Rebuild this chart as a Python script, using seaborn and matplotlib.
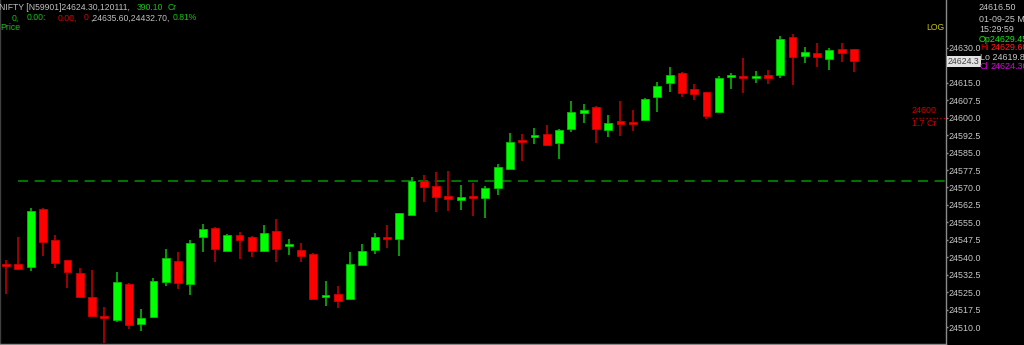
import numpy as np
import pandas as pd
import matplotlib
matplotlib.use("Agg")
import matplotlib.pyplot as plt
import matplotlib.transforms as mtransforms
import seaborn as sns

# ---------------- data ----------------
opens = [
    24537.0, 24537.0, 24535.8, 24560.8, 24547.4, 24538.7, 24533.2, 24523.0, 24514.9, 24513.0,
    24528.6, 24511.3, 24514.2, 24529.2, 24538.4, 24528.5, 24548.8, 24552.6, 24542.8, 24549.4,
    24548.7, 24542.7, 24551.4, 24545.0, 24543.2, 24541.4, 24523.0, 24524.2, 24522.0, 24536.8,
    24543.1, 24548.6, 24547.7, 24558.2, 24572.8, 24570.6, 24566.5, 24564.6, 24566.3, 24565.5,
    24569.8, 24578.0, 24590.4, 24591.7, 24593.1, 24589.0, 24595.0, 24602.2, 24604.6, 24594.7,
    24598.5, 24598.3, 24599.0, 24608.9, 24614.9, 24619.1, 24612.2, 24610.9, 24602.6, 24617.5,
    24617.8, 24617.1, 24618.4, 24618.3, 24634.6, 24626.6, 24627.8, 24625.4, 24629.4, 24629.45]
highs = [
    24538.8, 24548.8, 24561.3, 24561.0, 24549.6, 24539.0, 24535.2, 24534.6, 24518.6, 24533.8,
    24529.0, 24517.7, 24530.9, 24543.5, 24542.4, 24547.4, 24554.2, 24553.0, 24550.0, 24550.9,
    24549.0, 24553.9, 24556.5, 24547.9, 24546.3, 24542.0, 24529.8, 24527.6, 24542.1, 24545.7,
    24550.4, 24553.7, 24559.2, 24574.6, 24575.5, 24576.7, 24577.0, 24571.1, 24571.8, 24570.6,
    24580.1, 24593.6, 24593.0, 24595.6, 24596.8, 24595.0, 24607.3, 24605.9, 24605.0, 24601.1,
    24607.3, 24603.3, 24608.5, 24615.4, 24621.7, 24619.5, 24614.5, 24611.2, 24618.1, 24619.4,
    24625.6, 24620.1, 24620.5, 24635.2, 24636.0, 24630.6, 24632.3, 24629.9, 24632.0, 24629.60]
lows = [
    24524.2, 24534.6, 24534.1, 24540.5, 24535.5, 24526.6, 24522.7, 24514.5, 24503.0, 24512.3,
    24509.1, 24508.3, 24514.0, 24527.5, 24526.2, 24523.8, 24542.1, 24538.1, 24542.5, 24539.2,
    24540.2, 24542.1, 24537.8, 24541.0, 24538.0, 24522.0, 24519.2, 24518.3, 24521.7, 24536.5,
    24541.3, 24544.0, 24540.4, 24558.0, 24563.6, 24559.3, 24559.9, 24560.3, 24557.7, 24557.0,
    24566.8, 24577.8, 24581.5, 24588.6, 24588.0, 24582.1, 24594.0, 24597.9, 24589.0, 24591.9,
    24592.2, 24594.4, 24598.8, 24602.6, 24610.9, 24609.1, 24607.6, 24599.3, 24601.9, 24612.4,
    24610.5, 24614.8, 24614.5, 24617.2, 24614.1, 24623.7, 24621.7, 24620.5, 24624.1, 24619.85]
closes = [
    24536.1, 24535.0, 24559.9, 24546.7, 24537.4, 24533.7, 24522.9, 24514.7, 24513.9, 24529.2,
    24511.0, 24514.0, 24529.8, 24539.6, 24529.1, 24546.3, 24552.0, 24543.4, 24549.7, 24547.3,
    24542.6, 24550.3, 24543.4, 24545.4, 24540.5, 24522.2, 24523.8, 24521.3, 24537.0, 24542.7,
    24548.7, 24547.7, 24558.9, 24572.8, 24570.3, 24566.0, 24565.2, 24565.9, 24565.5, 24569.7,
    24578.7, 24589.7, 24589.7, 24592.6, 24588.3, 24594.6, 24602.5, 24603.5, 24595.0, 24597.9,
    24597.4, 24597.4, 24607.9, 24613.7, 24618.4, 24610.6, 24610.1, 24600.8, 24617.0, 24618.4,
    24617.1, 24618.1, 24617.0, 24633.7, 24626.3, 24628.3, 24626.0, 24629.0, 24628.0, 24624.30]

ref_level = 24572.7          # green dashed reference line
alert_level = 24600.0        # red dotted alert line
alert_label = "24600"
alert_sub = "1.7 Cr"
last_price_label = "24624.3"
last_price = 24624.30
y_ticks = [24510.0, 24517.5, 24525.0, 24532.5, 24540.0, 24547.5, 24555.0, 24562.5, 24570.0,
           24577.5, 24585.0, 24592.5, 24600.0, 24607.5, 24615.0, 24630.0]

header1 = ["NIFTY [N59901]24624.30,120111,", "390.10", "Cr"]
header2 = ["0,", "0.00:", "0.00,", "0", ",24635.60,24432.70,", "0.81%"]
header3 = "Price"
info_lines = ["24616.50", "01-09-25 Mo", "15:29:59"]
info_op = "Op24629.45"
info_hi = ("Hi", "24629.60")
info_lo = "Lo 24619.85"
info_cl = ("Cl", "24624.30")

# ---------------- styling ----------------
sns.set_style("dark", {"axes.facecolor": "black", "figure.facecolor": "black"})
plt.rcParams["font.family"] = ["Liberation Sans", "DejaVu Sans"]

W, H = 1024, 345
fig = plt.figure(figsize=(W / 100, H / 100), dpi=100)
fig.patch.set_facecolor("black")
ax = fig.add_axes([0, 1 / H, 946 / W, 344 / H])
ax.set_facecolor("black")

df = pd.DataFrame({"open": opens, "high": highs, "low": lows, "close": closes})
df["idx"] = np.arange(len(df))
df["up"] = df["close"] >= df["open"]
df["bottom"] = df[["open", "close"]].min(axis=1)
df["height"] = (df["close"] - df["open"]).abs().clip(lower=0.9)

wick_cols = np.where(df["up"], "#0a9a0a", "#a00000")
body_cols = np.where(df["up"], "#00ff00", "#ff0000")
edge_cols = np.where(df["up"], "#00c000", "#d00000")

ax.vlines(df["idx"], df["low"], df["high"], colors=wick_cols, lw=1.4, zorder=2)
ax.bar(df["idx"], df["height"], bottom=df["bottom"], width=0.64, color=body_cols,
       edgecolor=edge_cols, linewidth=0.6, zorder=3)

ax.hlines(ref_level, 0.98, 76.5, colors="#008a00", linestyles=(0, (6, 4)), lw=1.2, zorder=1)
ax.hlines(alert_level, 73.7, 76.5, colors="#b00000", linestyles=(0, (1, 1.5)), lw=1.0, zorder=1)

ax.set_xlim(-0.49, 76.49)
ax.set_ylim(24502.7, 24650.6)
ax.grid(False)

ax.yaxis.tick_right()
ax.set_yticks(y_ticks)
ax.set_yticklabels([f"{v:.1f}" for v in y_ticks])
ax.tick_params(axis="y", colors="#909090", labelcolor="#c8c8c8", labelsize=6.4,
               length=1.5, width=1, pad=0.5, direction="out")
ax.set_xticks([])
ax.spines["top"].set_visible(False)
for side in ["right", "bottom", "left"]:
    ax.spines[side].set_visible(True)
    ax.spines[side].set_color("#8a8a8a")
    ax.spines[side].set_linewidth(1.0)
ax.spines["left"].set_color("#404040")

# last price box
trans = mtransforms.blended_transform_factory(ax.transAxes, ax.transData)
ax.text(1.002, last_price, last_price_label, transform=trans, ha="left", va="center",
        fontsize=6.3, color="#404040", clip_on=False,
        bbox=dict(boxstyle="square,pad=0.1", fc="#e2e2e2", ec="none"))


def ftext(x, y, s, color, size=6.4, **kw):
    fig.text(x / W, 1 - y / H, s, color=color, fontsize=size, ha="left", va="center", **kw)


# header
ftext(-1, 7, header1[0], "#c0c0c0", size=6.2)
ftext(137, 7, header1[1], "#18c018", size=6.2)
ftext(168, 7, header1[2], "#18c018", size=6.2)
ftext(12, 18, header2[0], "#18c018", size=6.2)
ftext(27, 18, header2[1], "#18c018", size=6.2)
ftext(58, 18, header2[2], "#e00000", size=6.2)
ftext(84, 18, header2[3], "#e00000", size=6.2)
ftext(90, 18, header2[4], "#c0c0c0", size=6.2)
ftext(173, 18, header2[5], "#18c018", size=6.2)
ftext(0, 28, header3, "#18c018", size=6.2)

# right info panel
ftext(979, 7, info_lines[0], "#c8c8c8")
ftext(979, 19, info_lines[1], "#c8c8c8")
ftext(979, 29, info_lines[2], "#c8c8c8")
ftext(979, 39, info_op, "#20e020")
ftext(980, 48, info_hi[0], "#d00000")
ftext(991, 48, info_hi[1], "#ff2020")
ftext(980, 57.5, info_lo, "#c8c8c8")
ftext(980, 66.5, info_cl[0], "#d000d0")
ftext(991, 66.5, info_cl[1], "#e000e0")

ftext(926, 28, "LOG", "#c8c800", size=6.2)
ftext(912, 111, alert_label, "#d00000")
ftext(912, 124, alert_sub, "#d00000")

fig.savefig("out.png", dpi=100, facecolor="black")
